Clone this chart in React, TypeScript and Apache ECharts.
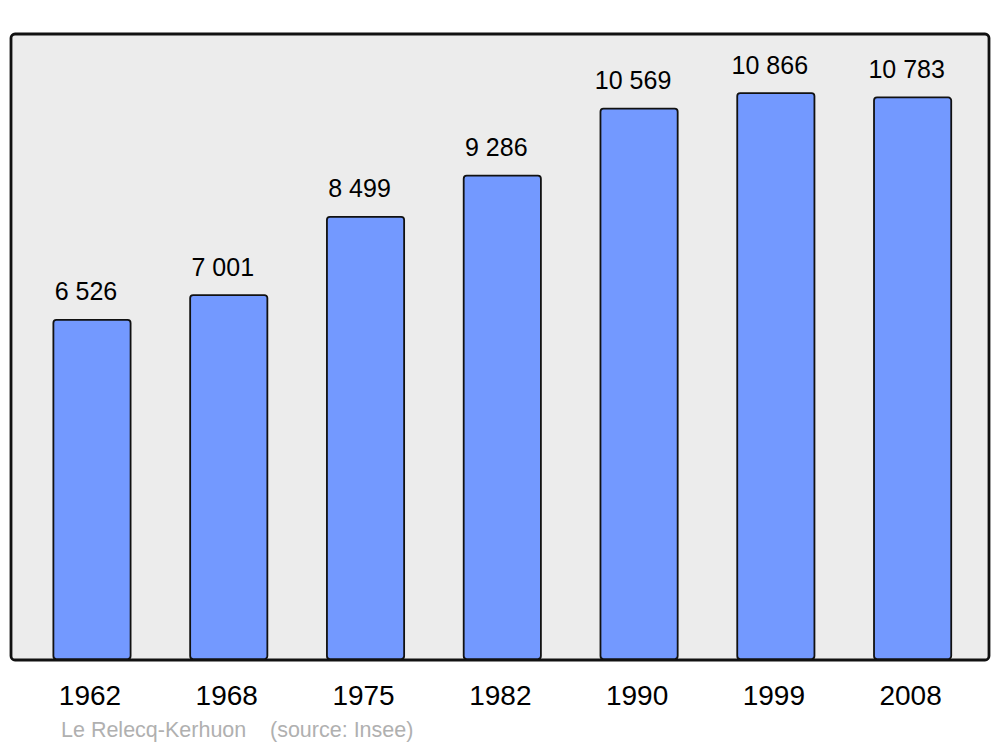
import React, { useEffect, useRef } from "react";
import * as echarts from "echarts";

const years = ["1962", "1968", "1975", "1982", "1990", "1999", "2008"];
const population = [6526, 7001, 8499, 9286, 10569, 10866, 10783];
const townName = "Le Relecq-Kerhuon";
const sourceNote = "(source: Insee)";

const fmt = (v: number) => {
  const s = String(v);
  return s.length > 3 ? s.slice(0, s.length - 3) + " " + s.slice(-3) : s;
};

export default function App() {
  const ref = useRef<HTMLDivElement>(null);
  useEffect(() => {
    if (!ref.current) return;
    const chart = echarts.init(ref.current, null, { renderer: "svg" });
    chart.setOption({
      animation: false,
      textStyle: { fontFamily: "Liberation Sans" },
      grid: { left: 23.6, right: 19, top: 34, bottom: 87 },
      graphic: [
        {
          type: "rect",
          z: -10,
          shape: { x: 11, y: 34, width: 978, height: 626, r: 4 },
          style: { fill: "#ececec", stroke: "#111", lineWidth: 2.8 },
          silent: true,
        },
        {
          type: "text",
          x: 61,
          y: 730,
          style: {
            text: townName,
            fill: "#b0b0b0",
            font: "21.5px Liberation Sans",
            textVerticalAlign: "middle",
          },
        },
        {
          type: "text",
          x: 270,
          y: 730,
          style: {
            text: sourceNote,
            fill: "#b0b0b0",
            font: "21.5px Liberation Sans",
            textVerticalAlign: "middle",
          },
        },
      ],
      xAxis: {
        type: "category",
        data: years,
        axisLine: { show: false },
        axisTick: { show: false },
        axisLabel: {
          color: "#000",
          fontSize: 28,
          margin: 21,
          fontFamily: "Liberation Sans",
          padding: [0, 4, 0, 0],
        },
      },
      yAxis: {
        type: "value",
        min: 0,
        max: 11980,
        show: false,
        splitLine: { show: false },
      },
      series: [
        {
          type: "bar",
          data: population,
          barWidth: 79,
          itemStyle: {
            color: "#7399ff",
            borderColor: "#111",
            borderWidth: 1.8,
            borderRadius: 3,
          },
          label: {
            show: true,
            position: "top",
            distance: 15,
            offset: [-6, 0],
            color: "#000",
            fontSize: 25,
            fontFamily: "Liberation Sans",
            formatter: (p: any) => fmt(p.value),
          },
        },
      ],
    });
    return () => chart.dispose();
  }, []);
  return <div ref={ref} style={{ width: 1000, height: 747, position: "absolute", left: 0, top: 0, background: "#fff" }} />;
}
